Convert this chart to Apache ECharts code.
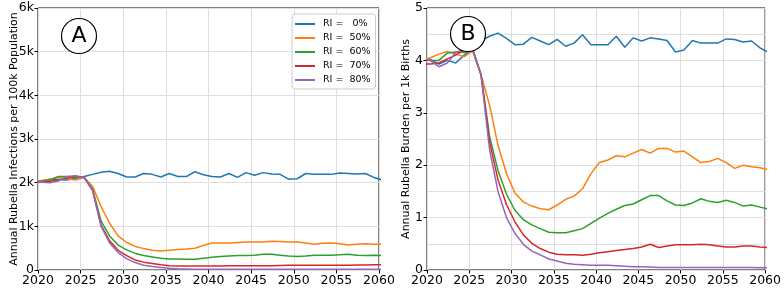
<!DOCTYPE html>
<html>
<head>
<meta charset="utf-8">
<script src="https://cdn.jsdelivr.net/npm/echarts@6/dist/echarts.min.js"></script>
<style>
html,body{margin:0;padding:0;background:#fff;}
#c{width:784px;height:290px;}
</style>
</head>
<body>
<div id="c"></div>
<script>
// x positions of the yearly model outputs (clipped to 2020-2060 by the axes)
const years = [2019.4,2020.4,2021.4,2022.4,2023.4,2024.4,2025.4,2026.4,2027.4,2028.4,
  2029.4,2030.4,2031.4,2032.4,2033.4,2034.4,2035.4,2036.4,2037.4,2038.4,
  2039.4,2040.4,2041.4,2042.4,2043.4,2044.4,2045.4,2046.4,2047.4,2048.4,
  2049.4,2050.4,2051.4,2052.4,2053.4,2054.4,2055.4,2056.4,2057.4,2058.4,
  2059.4,2060.4];

const seriesNames = ['RI =   0%', 'RI =  50%', 'RI =  60%', 'RI =  70%', 'RI =  80%'];

// Panel A: annual rubella infections per 100k population
const infRI0 = [2020,2040,2080,2070,2060,2100,2140,2190,2240,2260,
  2210,2130,2130,2210,2190,2130,2210,2140,2140,2250,
  2180,2140,2130,2210,2120,2230,2170,2230,2200,2190,
  2080,2090,2210,2190,2190,2190,2220,2210,2200,2210,
  2120,2060];
const infRI50 = [2020,2050,2080,2120,2090,2060,2120,1920,1450,1070,
  780,630,540,490,450,435,450,470,480,500,
  560,620,620,620,630,640,640,640,660,650,
  640,640,620,590,610,620,600,570,590,600,
  590,590];
const infRI60 = [2000,2030,2060,2140,2140,2120,2130,1850,1120,780,
  570,460,380,330,300,270,250,250,245,245,
  270,290,310,320,330,330,340,360,360,340,
  320,310,320,340,340,340,350,360,340,330,
  340,330];
const infRI70 = [2000,2010,2030,2060,2100,2150,2120,1830,1030,670,
  450,330,230,180,150,120,100,90,90,90,
  90,90,90,95,95,100,100,100,100,105,
  110,110,110,110,110,110,110,110,115,115,
  120,120];
const infRI80 = [2020,2010,2000,2040,2140,2160,2120,1820,1000,620,
  400,260,170,110,80,60,40,30,25,20,
  20,20,20,20,20,20,20,20,20,20,
  20,20,20,20,20,20,20,20,20,20,
  20,20];

// Panel B: annual rubella burden per 1k births
const burRI0 = [4.05,4.02,3.93,4.00,3.95,4.10,4.22,4.38,4.46,4.52,
  4.42,4.30,4.31,4.44,4.37,4.30,4.40,4.27,4.33,4.49,
  4.30,4.30,4.30,4.46,4.25,4.43,4.37,4.43,4.41,4.38,
  4.16,4.20,4.38,4.33,4.33,4.33,4.41,4.40,4.35,4.37,
  4.24,4.15];
const burRI50 = [4.00,4.05,4.12,4.17,4.12,4.07,4.18,3.72,3.15,2.38,
  1.84,1.47,1.30,1.22,1.17,1.15,1.24,1.35,1.41,1.55,
  1.84,2.05,2.10,2.18,2.16,2.23,2.30,2.23,2.32,2.32,
  2.25,2.27,2.16,2.05,2.07,2.13,2.05,1.94,2.00,1.97,
  1.95,1.91];
const burRI60 = [4.02,4.00,4.00,4.14,4.16,4.15,4.20,3.72,2.55,1.90,
  1.45,1.14,0.96,0.86,0.79,0.72,0.71,0.71,0.75,0.79,
  0.89,0.99,1.08,1.16,1.23,1.26,1.34,1.42,1.42,1.32,
  1.24,1.23,1.28,1.36,1.31,1.29,1.33,1.29,1.22,1.24,
  1.20,1.16];
const burRI70 = [3.93,3.93,3.95,4.03,4.10,4.20,4.22,3.72,2.45,1.72,
  1.25,0.92,0.67,0.51,0.41,0.34,0.30,0.29,0.29,0.28,
  0.30,0.33,0.35,0.37,0.39,0.41,0.44,0.49,0.43,0.46,
  0.48,0.48,0.48,0.49,0.48,0.46,0.44,0.44,0.46,0.46,
  0.44,0.43];
const burRI80 = [4.02,4.00,3.88,3.95,4.15,4.22,4.22,3.72,2.30,1.50,
  1.00,0.70,0.49,0.36,0.29,0.21,0.17,0.13,0.11,0.10,
  0.09,0.09,0.09,0.08,0.07,0.06,0.06,0.055,0.05,0.05,
  0.05,0.05,0.05,0.05,0.05,0.05,0.05,0.05,0.05,0.05,
  0.045,0.04];

const xTicks = { min: 2020, max: 2060, step: 5 };
const yTicksA = { min: 0, max: 6000, step: 1000 };
const yTicksB = { min: 0, max: 5, step: 1 };

const colors = ['#1f77b4', '#ff7f0e', '#2ca02c', '#d62728', '#9467bd'];
const infSets = [infRI0, infRI50, infRI60, infRI70, infRI80];
const burSets = [burRI0, burRI50, burRI60, burRI70, burRI80];

const FONT = 'DejaVu Sans';
const gridLineStyle = { color: '#dedede', width: 1 };

function xAxisDef(gi) {
  return {
    type: 'value', gridIndex: gi, min: xTicks.min, max: xTicks.max, interval: xTicks.step,
    axisLine: { show: false },
    axisTick: { show: true, inside: false, length: 3.5, lineStyle: { color: '#000', width: 1 } },
    axisLabel: { color: '#000', fontFamily: FONT, fontSize: 12.5, margin: 4, formatter: v => String(v) },
    splitLine: { show: true, lineStyle: gridLineStyle }
  };
}

function mk(values, gi, i) {
  return {
    name: seriesNames[i], type: 'line', xAxisIndex: gi, yAxisIndex: gi,
    data: years.map((y, k) => [y, values[k]]),
    showSymbol: false, symbol: 'none', smooth: false, clip: true,
    lineStyle: { color: colors[i], width: 1.5 }, itemStyle: { color: colors[i] },
    emphasis: { disabled: true }
  };
}

const series = [];
infSets.forEach((s, i) => series.push(mk(s, 0, i)));
burSets.forEach((s, i) => series.push(mk(s, 1, i)));

const option = {
  animation: false,
  backgroundColor: '#fff',
  color: colors,
  grid: [
    { left: 38, right: 405, top: 8, bottom: 20, show: true, borderColor: '#000', borderWidth: 1, backgroundColor: 'transparent' },
    { left: 427, right: 17, top: 8, bottom: 20, show: true, borderColor: '#000', borderWidth: 1, backgroundColor: 'transparent' }
  ],
  xAxis: [xAxisDef(0), xAxisDef(1)],
  yAxis: [
    {
      type: 'value', gridIndex: 0, min: yTicksA.min, max: yTicksA.max, interval: yTicksA.step,
      name: 'Annual Rubella Infections per 100k Population', nameLocation: 'middle', nameGap: 18.5,
      nameMoveOverlap: false,
      nameTextStyle: { color: '#000', fontFamily: FONT, fontSize: 11 },
      axisLine: { show: false },
      axisTick: { show: true, length: 3.5, lineStyle: { color: '#000', width: 1 } },
      axisLabel: { color: '#000', fontFamily: FONT, fontSize: 12.5, margin: 4,
        formatter: v => v === 0 ? '0' : (v / 1000) + 'k' },
      splitLine: { show: true, lineStyle: gridLineStyle }
    },
    {
      type: 'value', gridIndex: 1, min: yTicksB.min, max: yTicksB.max, interval: yTicksB.step,
      name: 'Annual Rubella Burden per 1k Births', nameLocation: 'middle', nameGap: 15.5,
      nameMoveOverlap: false,
      nameTextStyle: { color: '#000', fontFamily: FONT, fontSize: 11 },
      axisLine: { show: false },
      axisTick: { show: true, length: 3.5, lineStyle: { color: '#000', width: 1 } },
      minorTick: { show: true, splitNumber: 2, length: 0 },
      minorSplitLine: { show: true, lineStyle: gridLineStyle },
      axisLabel: { color: '#000', fontFamily: FONT, fontSize: 12.5, margin: 4, formatter: v => String(v) },
      splitLine: { show: true, lineStyle: gridLineStyle }
    }
  ],
  legend: {
    data: seriesNames,
    orient: 'vertical', left: 292, top: 14,
    backgroundColor: '#fff', borderColor: '#cccccc', borderWidth: 1, borderRadius: 3,
    padding: [5, 5, 4, 3], itemGap: 4, itemWidth: 20, itemHeight: 2, icon: 'rect',
    selectedMode: false,
    textStyle: { color: '#000', fontFamily: FONT, fontSize: 9.5, lineHeight: 10, padding: [0, 0, 0, 3] }
  },
  graphic: [
    { type: 'circle', shape: { cx: 79, cy: 36, r: 17.5 }, style: { fill: '#fff', stroke: '#000', lineWidth: 1.2 }, z: 100 },
    { type: 'text', x: 79, y: 36, style: { text: 'A', fontFamily: FONT, fontSize: 22, fill: '#000', align: 'center', verticalAlign: 'middle' }, z: 101 },
    { type: 'circle', shape: { cx: 468, cy: 34, r: 17.5 }, style: { fill: '#fff', stroke: '#000', lineWidth: 1.2 }, z: 100 },
    { type: 'text', x: 468, y: 34, style: { text: 'B', fontFamily: FONT, fontSize: 22, fill: '#000', align: 'center', verticalAlign: 'middle' }, z: 101 }
  ],
  series: series
};

const chart = echarts.init(document.getElementById('c'), null, { renderer: 'canvas' });
chart.setOption(option);
</script>
</body>
</html>
